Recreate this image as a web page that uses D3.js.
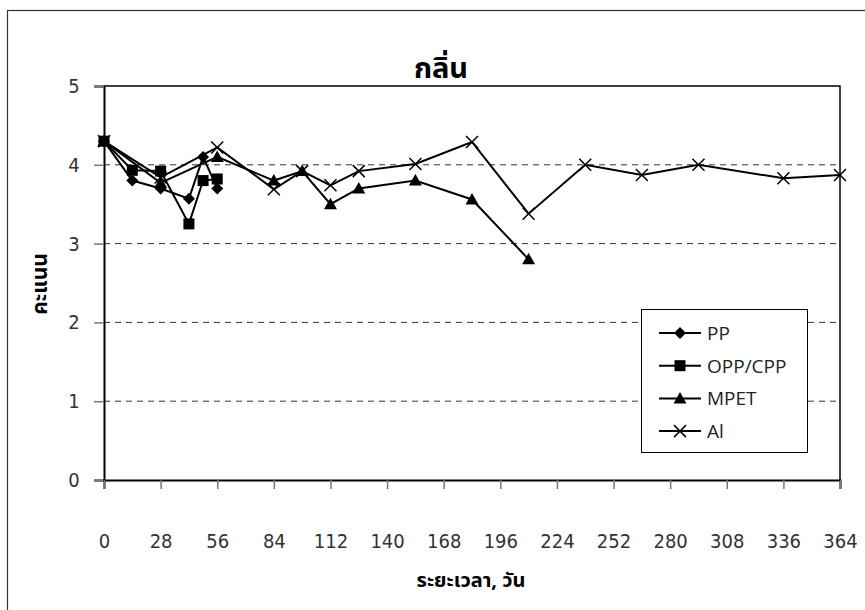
<!DOCTYPE html>
<html>
<head>
<meta charset="utf-8">
<script src="https://cdn.jsdelivr.net/npm/d3@7"></script>
<style>
  html, body { margin: 0; padding: 0; background: #fff; }
  svg { display: block; }
  .thai { font-family: "Noto Sans Thai", "Noto Sans", "DejaVu Sans", sans-serif; }
  .num { font-family: "Liberation Sans Narrow", "DejaVu Sans Condensed", "Noto Sans", sans-serif; }
</style>
</head>
<body>
<svg id="chart" width="865" height="610"></svg>
<script>
// Sensory score for odour (กลิ่น) over storage time, per packaging type
const title = "กลิ่น";
const xTitle = "ระยะเวลา, วัน";
const yTitle = "คะแนน";
const xTicks = [0, 28, 56, 84, 112, 140, 168, 196, 224, 252, 280, 308, 336, 364];
const yTicks = [0, 1, 2, 3, 4, 5];

const ppDays    = [0, 14, 28, 42, 49, 56];
const ppScores  = [4.30, 3.80, 3.70, 3.57, 4.10, 3.70];

const oppDays   = [0, 14, 28, 42, 49, 56];
const oppScores = [4.30, 3.93, 3.92, 3.25, 3.80, 3.82];

const mpetDays   = [0, 28, 56, 84, 98, 112, 126, 154, 182, 210];
const mpetScores = [4.30, 3.77, 4.10, 3.80, 3.92, 3.50, 3.70, 3.80, 3.56, 2.80];

const alDays   = [0, 28, 56, 84, 98, 112, 126, 154, 182, 210, 238, 266, 294, 336, 364];
const alScores = [4.30, 3.84, 4.22, 3.69, 3.92, 3.74, 3.92, 4.01, 4.29, 3.38, 4.00, 3.87, 4.00, 3.83, 3.87];

const seriesNames = ["PP", "OPP/CPP", "MPET", "Al"];
const seriesDays = [ppDays, oppDays, mpetDays, alDays];
const seriesScores = [ppScores, oppScores, mpetScores, alScores];
const seriesMarkers = ["diamond", "square", "triangle", "cross"];

const svg = d3.select("#chart");
const plot = { left: 104, top: 86, right: 840, bottom: 480 };

const x = d3.scaleLinear().domain([0, 364]).range([plot.left, plot.right]);
const y = d3.scaleLinear().domain([0, 5]).range([plot.bottom, plot.top]);

// outer chart frame (runs past the right and bottom edges)
svg.append("rect")
  .attr("x", 7.5).attr("y", 10.5)
  .attr("width", 900).attr("height", 700)
  .attr("fill", "none").attr("stroke", "#333").attr("stroke-width", 1.2);

// dashed gridlines
svg.append("g").selectAll("line")
  .data(yTicks.filter(v => v > 0 && v < 5))
  .join("line")
  .attr("x1", plot.left).attr("x2", plot.right)
  .attr("y1", d => y(d)).attr("y2", d => y(d))
  .attr("stroke", "#333").attr("stroke-width", 1)
  .attr("stroke-dasharray", "6,5");

// top and right plot border
svg.append("path")
  .attr("d", `M${plot.left},${plot.top}H${plot.right}V${plot.bottom}`)
  .attr("fill", "none").attr("stroke", "#000").attr("stroke-width", 1.5);

// y axis
const yAxis = svg.append("g")
  .attr("transform", `translate(${plot.left},0)`)
  .call(d3.axisLeft(y).tickValues(yTicks).tickSize(10).tickPadding(20).tickFormat(d3.format("d")));
yAxis.select(".domain").attr("stroke", "#000").attr("stroke-width", 2);
yAxis.selectAll(".tick line").attr("stroke", "#777").attr("stroke-width", 1.5);
yAxis.selectAll(".tick text")
  .attr("class", "num")
  .attr("font-size", 20).attr("fill", "#333")
  .attr("text-anchor", "middle").attr("x", -30);

// x axis
const xAxis = svg.append("g")
  .attr("transform", `translate(0,${plot.bottom})`)
  .call(d3.axisBottom(x).tickValues(xTicks).tickSize(9).tickPadding(45).tickFormat(d3.format("d")));
xAxis.select(".domain").attr("stroke", "#000").attr("stroke-width", 2);
xAxis.selectAll(".tick line").attr("stroke", "#777").attr("stroke-width", 1.5);
xAxis.selectAll(".tick text")
  .attr("class", "num")
  .attr("font-size", 20).attr("fill", "#333");

// titles
svg.append("text").attr("class", "thai")
  .attr("x", 441).attr("y", 78).attr("text-anchor", "middle")
  .attr("font-size", 29).attr("font-weight", "bold").text(title);

svg.append("text").attr("class", "thai")
  .attr("x", 471).attr("y", 587).attr("text-anchor", "middle")
  .attr("font-size", 20).attr("font-weight", "bold").text(xTitle);

svg.append("text").attr("class", "thai")
  .attr("transform", "translate(47,284) rotate(-90)")
  .attr("text-anchor", "middle")
  .attr("font-size", 21).attr("font-weight", "bold").text(yTitle);

// marker shapes
function drawMarker(g, kind, cx, cy) {
  if (kind === "diamond") {
    g.append("path").attr("d", `M${cx},${cy - 6}L${cx + 6},${cy}L${cx},${cy + 6}L${cx - 6},${cy}Z`).attr("fill", "#000");
  } else if (kind === "square") {
    g.append("rect").attr("x", cx - 5.5).attr("y", cy - 5.5).attr("width", 11).attr("height", 11).attr("fill", "#000");
  } else if (kind === "triangle") {
    g.append("path").attr("d", `M${cx},${cy - 6.5}L${cx + 6.5},${cy + 5}L${cx - 6.5},${cy + 5}Z`).attr("fill", "#000");
  } else {
    g.append("path").attr("d", `M${cx - 6},${cy - 6}L${cx + 6},${cy + 6}M${cx - 6},${cy + 6}L${cx + 6},${cy - 6}`)
      .attr("stroke", "#000").attr("stroke-width", 1.5).attr("fill", "none");
  }
}

const line = d3.line().x(d => x(d[0])).y(d => y(d[1]));

seriesNames.forEach((name, i) => {
  const pts = seriesDays[i].map((d, j) => [d, seriesScores[i][j]]);
  const g = svg.append("g");
  g.append("path").datum(pts).attr("d", line)
    .attr("fill", "none").attr("stroke", "#000").attr("stroke-width", 2);
  pts.forEach(p => drawMarker(g, seriesMarkers[i], x(p[0]), y(p[1])));
});

// legend
const lg = svg.append("g");
lg.append("rect").attr("x", 641.5).attr("y", 309.5).attr("width", 166).attr("height", 143)
  .attr("fill", "#fff").attr("stroke", "#000").attr("stroke-width", 1);
seriesNames.forEach((name, i) => {
  const ly = 333 + i * 32.7;
  lg.append("line").attr("x1", 659).attr("x2", 701).attr("y1", ly).attr("y2", ly)
    .attr("stroke", "#000").attr("stroke-width", 2);
  drawMarker(lg, seriesMarkers[i], 680, ly);
  lg.append("text").attr("x", 707).attr("y", ly + 7)
    .attr("font-family", "'Open Sans', 'Noto Sans', sans-serif")
    .attr("font-size", 19).attr("fill", "#222").text(name);
});
</script>
</body>
</html>
